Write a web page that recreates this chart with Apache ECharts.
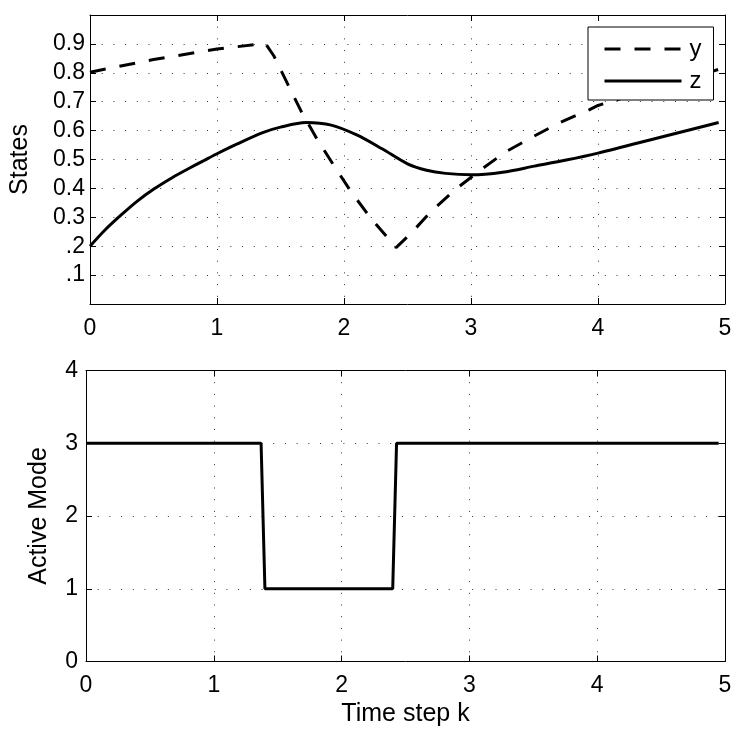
<!DOCTYPE html>
<html><head><meta charset="utf-8">
<script src="https://cdn.jsdelivr.net/npm/echarts@6/dist/echarts.min.js"></script>
<style>html,body{margin:0;padding:0;background:#fff}#c{width:747px;height:740px}</style>
</head><body><div id="c"></div>
<script>
// ---- data ----
const xTickLabels = ['0', '1', '2', '3', '4', '5'];
const statesTickLabels = ['', '.1', '.2', '0.3', '0.4', '0.5', '0.6', '0.7', '0.8', '0.9', ''];
const modeTickLabels = ['0', '1', '2', '3', '4'];

const yTime   = [0, 0.5, 1.0, 1.38, 1.447, 1.668, 1.79, 1.923, 2.058, 2.206, 2.367, 2.41, 2.52, 2.69, 2.87, 3.07, 3.267, 3.48, 3.69, 3.93, 4.0, 4.9, 4.95];
const yValues = [0.802, 0.846, 0.882, 0.902, 0.859, 0.662, 0.569, 0.477, 0.387, 0.300, 0.217, 0.195, 0.241, 0.322, 0.394, 0.462, 0.525, 0.577, 0.626, 0.672, 0.687, 0.805, 0.812];

const zTime   = [0, 0.12, 0.25, 0.375, 0.5, 0.65, 0.77, 0.9, 1.0, 1.16, 1.36, 1.5, 1.7, 1.9, 2.1, 2.3, 2.5, 2.65, 2.8, 3.0, 3.25, 3.5, 3.75, 4.0, 4.5, 4.95];
const zValues = [0.2, 0.257, 0.31, 0.357, 0.397, 0.438, 0.467, 0.497, 0.52, 0.554, 0.593, 0.612, 0.628, 0.619, 0.585, 0.537, 0.485, 0.463, 0.452, 0.447, 0.456, 0.477, 0.498, 0.522, 0.578, 0.628];

const modeTime   = [0, 1.37, 1.40, 2.40, 2.43, 4.95];
const modeValues = [3, 3, 1, 1, 3, 3];

const seriesNames = ['y', 'z'];
const xAxisName = 'Time step k';
const topYName = 'States';
const bottomYName = 'Active Mode';

// ---- build ----
const FONT = 'Liberation Sans';
const pairs = (xs, ys) => xs.map((x, i) => [x, ys[i]]);

const dotted = { show: true, lineStyle: { color: '#333', width: 1, type: [1, 10.7] } };
const frameLine = { show: true, onZero: false, lineStyle: { color: '#000', width: 1 } };
const tickIn = { show: true, inside: true, length: 6, lineStyle: { color: '#000', width: 1 } };
const labelStyle = { color: '#000', fontSize: 23, fontFamily: FONT };

function xMain(gridIndex, withName) {
  const a = {
    type: 'value', gridIndex, position: 'bottom', min: 0, max: 5, interval: 1,
    axisLine: frameLine, axisTick: tickIn, splitLine: dotted,
    axisLabel: Object.assign({ margin: 13, formatter: v => xTickLabels[Math.round(v)] }, labelStyle)
  };
  if (withName) {
    a.name = xAxisName; a.nameLocation = 'middle'; a.nameGap = 40;
    a.nameTextStyle = { color: '#000', fontSize: 25, fontFamily: FONT };
  }
  return a;
}
function xTop(gridIndex) {
  return { type: 'value', gridIndex, position: 'top', min: 0, max: 5, interval: 1,
    axisLine: frameLine, axisTick: tickIn, axisLabel: { show: false }, splitLine: { show: false } };
}
function yRight(gridIndex, max, interval) {
  return { type: 'value', gridIndex, position: 'right', min: 0, max, interval,
    axisLine: frameLine, axisTick: tickIn, axisLabel: { show: false }, splitLine: { show: false } };
}

const option = {
  animation: false,
  backgroundColor: '#fff',
  grid: [
    { left: 86, top: 15, width: 639, height: 289 },
    { left: 86, top: 370.5, width: 639, height: 291 }
  ],
  xAxis: [xMain(0, false), xTop(0), xMain(1, true), xTop(1)],
  yAxis: [
    { type: 'value', gridIndex: 0, position: 'left', min: 0, max: 1, interval: 0.1,
      axisLine: frameLine, axisTick: tickIn, splitLine: dotted,
      axisLabel: Object.assign({ margin: 5, formatter: v => statesTickLabels[Math.round(v * 10)] }, labelStyle),
      name: topYName, nameLocation: 'middle', nameGap: 57,
      nameTextStyle: { color: '#000', fontSize: 25, fontFamily: FONT } },
    yRight(0, 1, 0.1),
    { type: 'value', gridIndex: 1, position: 'left', min: 0, max: 4, interval: 1,
      axisLine: frameLine, axisTick: tickIn, splitLine: dotted,
      axisLabel: Object.assign({ margin: 8, formatter: v => modeTickLabels[Math.round(v)] }, labelStyle),
      name: bottomYName, nameLocation: 'middle', nameGap: 34,
      nameTextStyle: { color: '#000', fontSize: 25, fontFamily: FONT } },
    yRight(1, 4, 1)
  ],
  legend: {
    data: seriesNames, orient: 'vertical', left: 588, top: 27,
    padding: [10, 12, 7, 15], itemWidth: 77, itemHeight: 12, itemGap: 8,
    backgroundColor: '#fff', borderColor: '#000', borderWidth: 1, borderRadius: 0,
    itemStyle: { color: 'rgba(0,0,0,0)', borderColor: 'rgba(0,0,0,0)', borderWidth: 0, opacity: 0 },
    lineStyle: { width: 3 },
    textStyle: { color: '#000', fontSize: 24, fontFamily: FONT, padding: [0, 0, 0, 3] }
  },
  series: [
    { name: seriesNames[0], type: 'line', xAxisIndex: 0, yAxisIndex: 0, data: pairs(yTime, yValues),
      symbol: 'none', smooth: false, lineStyle: { color: '#000', width: 3, type: [16, 14] }, itemStyle: { color: '#000' } },
    { name: seriesNames[1], type: 'line', xAxisIndex: 0, yAxisIndex: 0, data: pairs(zTime, zValues),
      symbol: 'none', smooth: 0.3, lineStyle: { color: '#000', width: 3 }, itemStyle: { color: '#000' } },
    { name: 'mode', type: 'line', xAxisIndex: 2, yAxisIndex: 2, data: pairs(modeTime, modeValues),
      symbol: 'none', lineStyle: { color: '#000', width: 3 }, itemStyle: { color: '#000' } }
  ]
};
const chart = echarts.init(document.getElementById('c'), null, { renderer: 'canvas' });
chart.setOption(option);
</script>
</body></html>
